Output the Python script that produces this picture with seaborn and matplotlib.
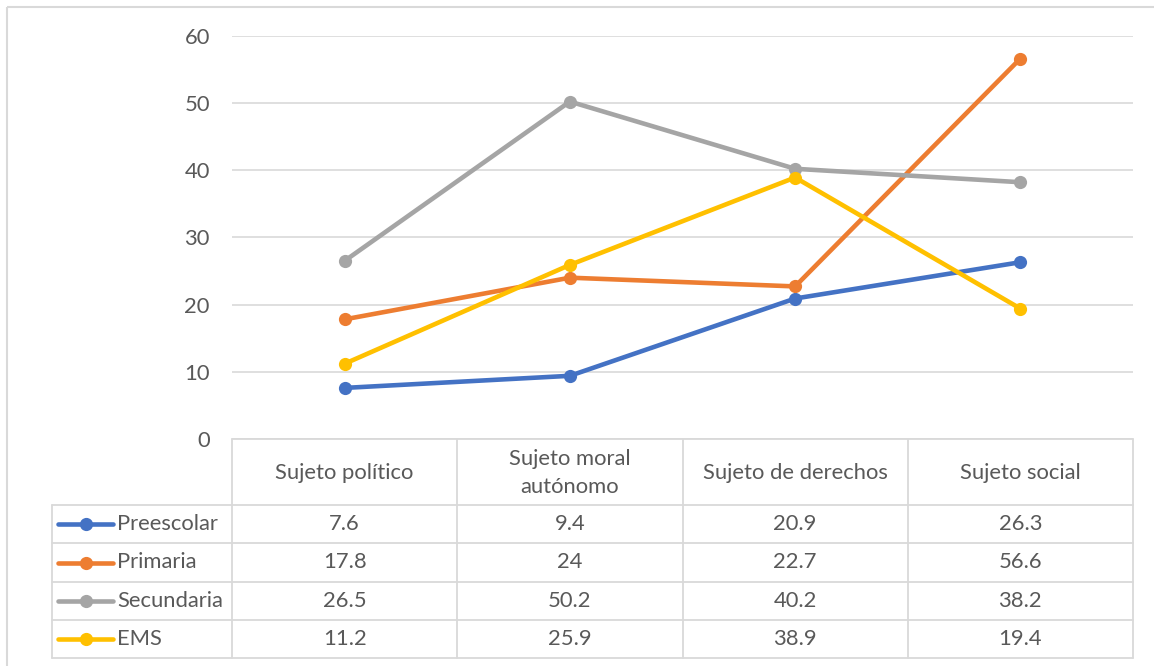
import matplotlib
matplotlib.use("Agg")
import matplotlib.pyplot as plt
import seaborn as sns
import pandas as pd

categorias = ["Sujeto político", "Sujeto moral\nautónomo", "Sujeto de derechos", "Sujeto social"]
niveles = ["Preescolar", "Primaria", "Secundaria", "EMS"]
preescolar = [7.6, 9.4, 20.9, 26.3]
primaria = [17.8, 24, 22.7, 56.6]
secundaria = [26.5, 50.2, 40.2, 38.2]
ems = [11.2, 25.9, 38.9, 19.4]
colores = ["#4472C4", "#ED7D31", "#A5A5A5", "#FFC000"]
yticks = [0, 10, 20, 30, 40, 50, 60]

series = [preescolar, primaria, secundaria, ems]

sns.set_theme(style="white")
plt.rcParams["font.family"] = ["Lato", "DejaVu Sans"]

TXT = "#595959"
GRID = "#D9D9D9"
FS = 15.8

W, H = 1154, 666
fig = plt.figure(figsize=(W / 100, H / 100), dpi=100)

# full-figure pixel canvas for the frame and the data table
bg = fig.add_axes([0, 0, 1, 1], zorder=0)
bg.set_xlim(0, W)
bg.set_ylim(H, 0)
bg.axis("off")

# plot area
L, R, T, B = 232, 1133, 35.7, 439
ax = fig.add_axes([L / W, 1 - B / H, (R - L) / W, (B - T) / H], zorder=1)
ax.patch.set_alpha(0)

filas = []
for nivel, vals in zip(niveles, series):
    for i, v in enumerate(vals):
        filas.append({"pos": i, "valor": v, "nivel": nivel})
df = pd.DataFrame(filas)

sns.lineplot(data=df, x="pos", y="valor", hue="nivel", hue_order=niveles,
             palette=colores, marker="o", markersize=9.5, markeredgewidth=0,
             linewidth=3.3, legend=False, sort=False, ax=ax)

ax.set_xlim(-0.5, len(categorias) - 0.5)
ax.set_ylim(yticks[0], yticks[-1])
ax.set_yticks(yticks)
ax.set_yticklabels([str(t) for t in yticks], color=TXT, fontsize=FS)
ax.tick_params(axis="y", length=0, pad=16)
ax.set_xticks([])
ax.set_xlabel("")
ax.set_ylabel("")
ax.grid(axis="y", color=GRID, linewidth=1.2)
ax.set_axisbelow(True)
for s in ax.spines.values():
    s.set_visible(False)

# outer chart frame
bg.plot([7, 7], [H + 5, 7], color=GRID, lw=1.5, solid_capstyle="butt")
bg.plot([7, W + 5], [7, 7], color=GRID, lw=1.5, solid_capstyle="butt")

# data table
def px(i):
    d = ax.transData.transform((i, 0))
    return bg.transData.inverted().transform(d)[0]

col_edges = [px(i - 0.5) for i in range(len(categorias) + 1)]
col_centers = [px(i) for i in range(len(categorias))]
head_top, head_bot = 439, 505
row_edges = [505, 543, 582, 620, 658]
left_x = 52
lw_t = 1.3

bg.plot([col_edges[0], col_edges[-1]], [head_top, head_top], color=GRID, lw=lw_t)
for y in row_edges:
    bg.plot([left_x, col_edges[-1]], [y, y], color=GRID, lw=lw_t)
for x in col_edges:
    bg.plot([x, x], [head_top, row_edges[-1]], color=GRID, lw=lw_t)
bg.plot([left_x, left_x], [row_edges[0], row_edges[-1]], color=GRID, lw=lw_t)

for cx, cat in zip(col_centers, categorias):
    bg.text(cx, (head_top + head_bot) / 2 + 1, cat, ha="center", va="center",
            color=TXT, fontsize=FS, linespacing=1.45)

for r, (nivel, vals, c) in enumerate(zip(niveles, series, colores)):
    yc = (row_edges[r] + row_edges[r + 1]) / 2
    bg.plot([58, 113], [yc, yc], color=c, lw=3.3, solid_capstyle="round")
    bg.plot([86], [yc], marker="o", color=c, markersize=9.5, markeredgewidth=0)
    bg.text(117, yc, nivel, ha="left", va="center", color=TXT, fontsize=FS)
    for cx, v in zip(col_centers, vals):
        bg.text(cx, yc, f"{v:g}", ha="center", va="center", color=TXT, fontsize=FS)

fig.savefig("out.png", dpi=100)
